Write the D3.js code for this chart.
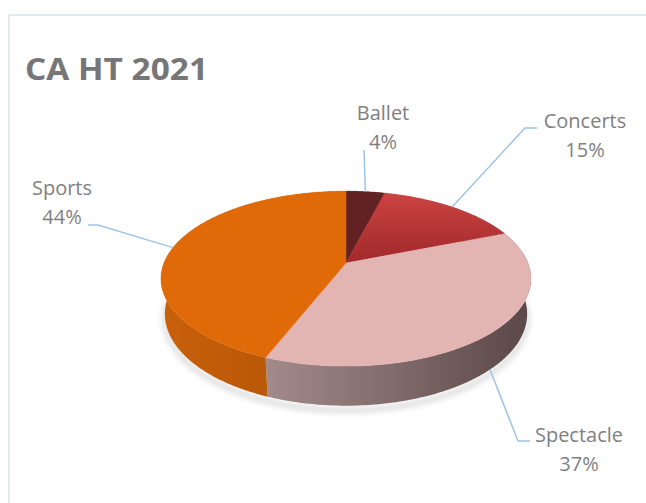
<!DOCTYPE html>
<html lang="en">
<head>
	<meta charset="UTF-8">
	<title>CA HT 2021</title>
	<script src="https://cdn.jsdelivr.net/npm/d3@7"></script>
	<style>
		body { margin: 0; background: #fff; }
		text { font-family: "Open Sans", "Liberation Sans", sans-serif; fill: #7f7f7f; }
	</style>
</head>
<body>
	<svg id="container" width="646" height="503"></svg>
<script>
	// data
	let categories = ["Ballet", "Concerts", "Spectacle", "Sports"]
	let shares = [4, 15, 37, 44]

	// styles per slice
	let topColors = ["#622224", ["#cb4442", "#a0282b"], "#e2b5b2", "#e06a08"]
	let sideColors = [["#4d1a1b", "#3d1414"], ["#9c2a2a", "#7a1f20"], ["#a48b8b", "#5a4747"], ["#c9600b", "#ae5306"]]
	// label placement: [x, baseline of name], leader elbow points
	let labelPos = [
		{x: 383, y: 120, line: [[364, 150]]},
		{x: 585, y: 128, line: [[537, 128], [525, 128]]},
		{x: 579, y: 442, line: [[530, 441], [518, 441]]},
		{x: 62, y: 195, line: [[88, 225], [98, 225]]}
	]

	let svg = d3.select("#container")
	let defs = svg.append("defs")

	// chart frame
	svg.append("rect")
		.attr("x", 9).attr("y", 15)
		.attr("width", 660).attr("height", 520)
		.attr("fill", "none")
		.attr("stroke", "#d5e3f2")
		.attr("stroke-width", 1.5)

	svg.append("text")
		.attr("x", 25).attr("y", 80)
		.attr("textLength", 183)
		.attr("lengthAdjust", "spacingAndGlyphs")
		.style("font-size", "31px")
		.style("font-weight", "bold")
		.style("fill", "#767676")
		.text("CA HT 2021")

	// 3d projection of the pie
	let cx = 346, cy = 263, r = 182
	let sinE = 0.465, cosE = Math.sqrt(1 - sinE * sinE)
	let F = 4.94, thick = 0.22

	function project(angle, y) {
		let x = Math.sin(angle), z = -Math.cos(angle)
		let d = z * cosE + y * sinE
		let s = F / (F - d)
		return [cx + r * x * s, cy - r * (y * cosE - z * sinE) * s]
	}
	function arcPts(a0, a1, y) {
		let n = Math.max(2, Math.ceil((a1 - a0) / 0.01))
		return d3.range(n + 1).map(i => project(a0 + (a1 - a0) * i / n, y))
	}

	let pie = d3.pie().sort(null).value(d => d)
	let arcs = pie(shares)
	let line = d3.line()

	// soft shadow
	let filt = defs.append("filter").attr("id", "shadow")
		.attr("x", "-20%").attr("y", "-20%").attr("width", "140%").attr("height", "140%")
	filt.append("feGaussianBlur").attr("stdDeviation", 3)

	let shadowPts = arcPts(Math.PI / 2, Math.PI * 3 / 2, -thick - 0.015)
	svg.append("path")
		.attr("d", line(shadowPts.map(p => [p[0], p[1] + 2])))
		.attr("fill", "none")
		.attr("stroke", "#000")
		.attr("stroke-opacity", 0.25)
		.attr("stroke-width", 3)
		.attr("filter", "url(#shadow)")

	// sides
	arcs.forEach((a, i) => {
		let topPts = arcPts(a.startAngle, a.endAngle, 0)
		let botPts = arcPts(a.startAngle, a.endAngle, -thick).reverse()
		let pts = topPts.concat(botPts)
		let xs = d3.extent(pts, p => p[0])
		let g = defs.append("linearGradient").attr("id", "side" + i)
			.attr("gradientUnits", "userSpaceOnUse")
			.attr("x1", xs[0]).attr("x2", xs[1]).attr("y1", 0).attr("y2", 0)
		g.append("stop").attr("offset", 0).attr("stop-color", sideColors[i][0])
		g.append("stop").attr("offset", 1).attr("stop-color", sideColors[i][1])
		svg.append("path")
			.attr("d", line(pts) + "Z")
			.attr("fill", "url(#side" + i + ")")
	})

	// tops
	arcs.forEach((a, i) => {
		let pts = [project(0, 0).map((v, k) => k == 0 ? cx : v)]
		pts = [[cx, cy]].concat(arcPts(a.startAngle, a.endAngle, 0))
		let fill = topColors[i]
		if (Array.isArray(fill)) {
			let ys = d3.extent(pts, p => p[1])
			let g = defs.append("linearGradient").attr("id", "top" + i)
				.attr("gradientUnits", "userSpaceOnUse")
				.attr("x1", 0).attr("x2", 0).attr("y1", ys[0]).attr("y2", ys[1])
			g.append("stop").attr("offset", 0).attr("stop-color", fill[0])
			g.append("stop").attr("offset", 1).attr("stop-color", fill[1])
			fill = "url(#top" + i + ")"
		}
		svg.append("path")
			.attr("d", line(pts) + "Z")
			.attr("fill", fill)
			.attr("stroke", fill)
			.attr("stroke-width", 0.5)
	})

	// leader lines and labels
	arcs.forEach((a, i) => {
		let mid = (a.startAngle + a.endAngle) / 2
		let front = Math.cos(mid) < 0
		let anchor = project(mid, front ? -thick : 0)
		let lp = labelPos[i]
		svg.append("path")
			.attr("d", line(lp.line.concat([anchor])))
			.attr("fill", "none")
			.attr("stroke", "#9dc3e6")
			.attr("stroke-width", 1.5)
		let t = svg.append("text")
			.attr("text-anchor", "middle")
			.style("font-size", "20px")
		t.append("tspan").attr("x", lp.x).attr("y", lp.y).text(categories[i])
		t.append("tspan").attr("x", lp.x).attr("y", lp.y + 29).text(d3.format(".0f")(a.data) + "%")
	})
</script>
</body>
</html>
